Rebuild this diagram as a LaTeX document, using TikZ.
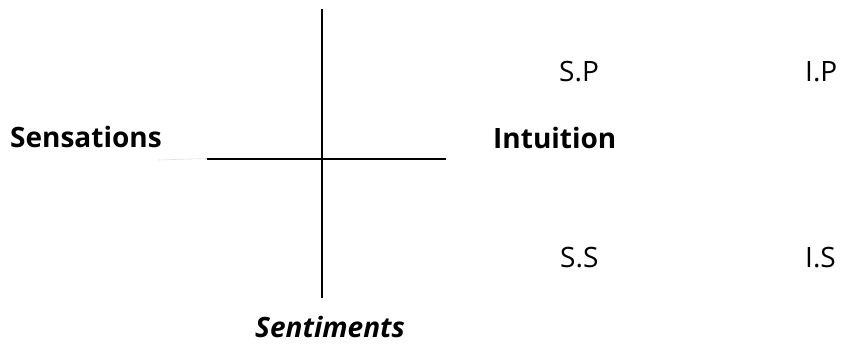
\documentclass[tikz,border=0pt]{standalone}
\usepackage{fontspec}
\setmainfont{Open Sans}
\begin{document}
\begin{tikzpicture}[x=1pt,y=-1pt,
  lbl/.style={anchor=base west,inner sep=0pt,font=\fontsize{28}{30}\selectfont},
  blbl/.style={lbl,font=\fontsize{28}{30}\selectfont\bfseries},
  axis/.style={line width=2pt,black}]
\useasboundingbox (0,0) rectangle (844,343);
\coordinate (vt) at (322,9);
\coordinate (vb) at (322,298);
\coordinate (hl) at (207,158.5);
\coordinate (hr) at (446,158.5);
\coordinate (gl) at (158,160);
\draw[axis] (vt) -- (vb);
\draw[axis] (hl) -- (hr);
\draw[line width=0.6pt,black!12] (gl) -- (hl);
\node[blbl] (sens) at (10,147) {Sensations};
\node[blbl] (intu) at (493,148) {Intuition};
\node[lbl] (sp) at (559,81) {S.P};
\node[lbl] (ip) at (805,81) {I.P};
\node[lbl] (ss) at (560,267) {S.S};
\node[lbl] (is) at (805,267) {I.S};
\node[lbl,font=\fontsize{28}{30}\selectfont\bfseries\itshape] (sent) at (255,337) {Sentiments};
\end{tikzpicture}
\end{document}
